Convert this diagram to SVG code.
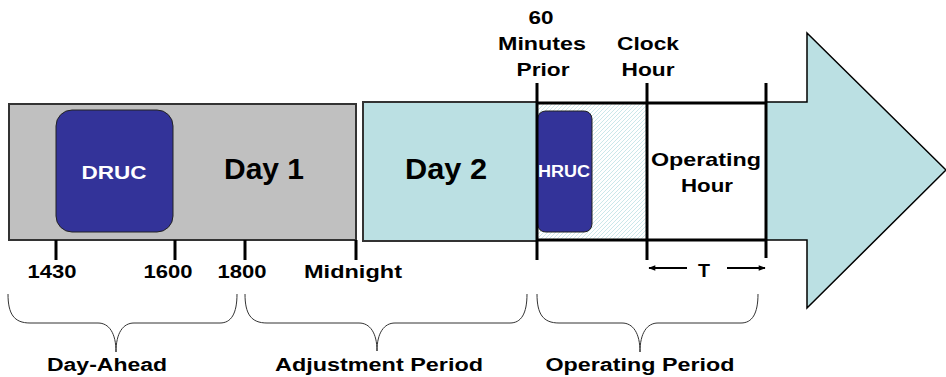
<svg xmlns="http://www.w3.org/2000/svg" width="946" height="377" viewBox="0 0 946 377">
<style>
  text { font-family: "Liberation Sans", Arial, sans-serif; font-weight: bold; fill: #000; text-anchor: middle; }
  .lbl { font-size: 18px; }
  .top { font-size: 19px; }
  .big { font-size: 29px; }
  .white { fill: #fff; }
  .tick { stroke: #000; stroke-width: 3; fill: none; }
  .brace { stroke: #333; stroke-width: 1; fill: none; }
  .conn { stroke: #000; stroke-width: 2; fill: none; }
</style>
<defs>
  <pattern id="hatch" width="4" height="4" patternUnits="userSpaceOnUse">
    <rect width="4" height="4" fill="#ffffff"/>
    <path d="M-1 1 L1 -1 M0 4 L4 0 M3 5 L5 3" stroke="#b4dde1" stroke-width="0.7"/>
  </pattern>
  <marker id="ah" viewBox="0 0 10 10" refX="9" refY="5" markerWidth="8" markerHeight="7" orient="auto-start-reverse" markerUnits="userSpaceOnUse">
    <path d="M0 1 L10 5 L0 9 Z" fill="#000"/>
  </marker>
</defs>
<rect width="946" height="377" fill="#ffffff"/>

<g id="big-arrow">
  <path d="M766 102 L807 102 L807 33 L946 170 L807 308 L807 240 L766 240 Z" fill="#bbe0e3" stroke="#000" stroke-width="1.5"/>
</g>

<g id="day1">
  <rect x="9" y="104" width="347" height="136" fill="#c0c0c0" stroke="#333" stroke-width="2"/>
  <text class="big" x="264" y="179" textLength="80" lengthAdjust="spacingAndGlyphs">Day 1</text>
</g>

<g id="druc">
  <rect x="56" y="110" width="117" height="122" rx="16" fill="#333399" stroke="#222" stroke-width="1"/>
  <text class="white" x="114" y="179" font-size="19" textLength="65" lengthAdjust="spacingAndGlyphs">DRUC</text>
</g>

<g id="day2">
  <rect x="363" y="102" width="174" height="139" fill="#bbe0e3" stroke="#333" stroke-width="2"/>
  <text class="big" x="446" y="179" textLength="82" lengthAdjust="spacingAndGlyphs">Day 2</text>
</g>

<g id="prior-window">
  <rect x="537" y="103" width="110" height="137" fill="url(#hatch)"/>
</g>

<g id="hruc">
  <rect x="537.5" y="111" width="54.5" height="121" rx="8" fill="#333399" stroke="#222" stroke-width="1"/>
  <text class="white" x="564" y="177" font-size="16" textLength="52" lengthAdjust="spacingAndGlyphs">HRUC</text>
</g>

<g id="operating-hour">
  <rect x="647" y="103" width="119" height="137" fill="#ffffff"/>
  <text class="top" x="706" y="166" textLength="110" lengthAdjust="spacingAndGlyphs">Operating</text>
  <text class="top" x="707" y="192" textLength="52" lengthAdjust="spacingAndGlyphs">Hour</text>
</g>

<g id="timeline-frame">
  <line class="tick" x1="537" y1="103" x2="766" y2="103"/>
  <line class="tick" x1="537" y1="240" x2="766" y2="240"/>
  <line class="tick" x1="537" y1="83" x2="537" y2="260"/>
  <line class="tick" x1="647" y1="83" x2="647" y2="260"/>
  <line class="tick" x1="766" y1="83" x2="766" y2="258"/>
</g>

<g id="ticks-day1">
  <line class="tick" x1="56" y1="240" x2="56" y2="260"/>
  <line class="tick" x1="175" y1="240" x2="175" y2="260"/>
  <line class="tick" x1="245" y1="240" x2="245" y2="260"/>
  <line class="tick" x1="356" y1="240" x2="356" y2="260"/>
  <text class="lbl" x="52" y="278" textLength="49" lengthAdjust="spacingAndGlyphs">1430</text>
  <text class="lbl" x="168" y="278" textLength="49" lengthAdjust="spacingAndGlyphs">1600</text>
  <text class="lbl" x="242" y="278" textLength="49" lengthAdjust="spacingAndGlyphs">1800</text>
  <text class="lbl" x="353" y="278" textLength="98" lengthAdjust="spacingAndGlyphs">Midnight</text>
</g>

<g id="label-60-min">
  <text class="top" x="541" y="24" textLength="25" lengthAdjust="spacingAndGlyphs">60</text>
  <text class="top" x="542" y="50" textLength="88" lengthAdjust="spacingAndGlyphs">Minutes</text>
  <text class="top" x="543" y="76" textLength="53" lengthAdjust="spacingAndGlyphs">Prior</text>
</g>

<g id="label-clock-hour">
  <text class="top" x="648" y="50" textLength="62" lengthAdjust="spacingAndGlyphs">Clock</text>
  <text class="top" x="648" y="76" textLength="53" lengthAdjust="spacingAndGlyphs">Hour</text>
</g>

<g id="connectors">
  <line class="conn" x1="687" y1="268" x2="649" y2="268" marker-end="url(#ah)"/>
  <line class="conn" x1="727" y1="268" x2="765" y2="268" marker-end="url(#ah)"/>
  <text class="lbl" x="704" y="277" textLength="12" lengthAdjust="spacingAndGlyphs">T</text>
</g>

<g id="day-ahead">
  <path class="brace" d="M8 294 C8 314 14 323 30 323 L98 323 C109 323 116 333 116 352 C116 333 123 323 134 323 L220 323 C231 323 237 314 237 294"/>
  <text class="lbl" x="107" y="371" textLength="120" lengthAdjust="spacingAndGlyphs">Day-Ahead</text>
</g>

<g id="adjustment-period">
  <path class="brace" d="M245 294 C245 314 251 323 267 323 L359 323 C370 323 377 333 377 351 C377 333 384 323 395 323 L510 323 C521 323 527 314 527 294"/>
  <text class="lbl" x="379" y="371" textLength="208" lengthAdjust="spacingAndGlyphs">Adjustment Period</text>
</g>

<g id="operating-period">
  <path class="brace" d="M537 294 C537 314 543 323 559 323 L622 323 C633 323 640 333 640 352 C640 333 647 323 658 323 L741 323 C752 323 758 314 758 294"/>
  <text class="lbl" x="640" y="371" textLength="189" lengthAdjust="spacingAndGlyphs">Operating Period</text>
</g>
</svg>
